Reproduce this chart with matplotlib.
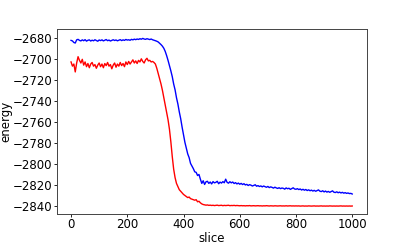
import numpy as np
import matplotlib
matplotlib.use("Agg")
import matplotlib.pyplot as plt

slices = np.arange(0, 1001, 5)

blue_energy = [
    -2682.5, -2683.0, -2684.5, -2685.0, -2682.0, -2681.5,
    -2682.5, -2683.0, -2682.0, -2682.8, -2681.8, -2683.2, -2682.4, -2682.0, -2683.1, -2682.3,
    -2682.9, -2681.9, -2682.6, -2683.3, -2682.1,
    -2682.7, -2682.0, -2683.0, -2682.4, -2681.7, -2682.8, -2682.2, -2683.1, -2682.5, -2681.9,
    -2682.6, -2682.1, -2682.9, -2682.3, -2681.8, -2682.7, -2682.0, -2682.5, -2681.6, -2682.2,
    -2681.9, -2682.4, -2681.5, -2682.0, -2681.3, -2681.8, -2681.2, -2681.6, -2680.9, -2681.4,
    -2680.6, -2681.2, -2681.5, -2680.9, -2681.3, -2681.7, -2681.2, -2681.9,
    -2682.3, -2682.8, -2683.3, -2684.0, -2685.2, -2686.5, -2688.0, -2690.0, -2693.0, -2697.0,
    -2701.5, -2706.5, -2711.5, -2717.0, -2724.0, -2729.5, -2737.0, -2743.0, -2750.5, -2757.0,
    -2765.0, -2772.0, -2779.5, -2785.0, -2790.5, -2794.0, -2799.5, -2802.0, -2804.5, -2807.5,
    -2808.0, -2811.0, -2810.0, -2814.5,
    -2818.5, -2816.0, -2819.5, -2817.0, -2816.5, -2818.5, -2817.2, -2819.0, -2816.8, -2818.0,
    -2817.5, -2816.5, -2818.8, -2817.3, -2818.2, -2816.8, -2817.9, -2814.5, -2817.5, -2818.3,
    -2816.9, -2818.0, -2817.2, -2818.6, -2817.8, -2819.0, -2818.2, -2819.3,
    -2818.5, -2819.6, -2818.8, -2820.0, -2819.4, -2820.5, -2819.7, -2820.2, -2821.0, -2820.4,
    -2819.8, -2821.2, -2820.6, -2821.5, -2820.9, -2821.8, -2821.0, -2821.6, -2822.2, -2821.4,
    -2822.5, -2821.8, -2822.3, -2823.0, -2822.1, -2822.8, -2823.3, -2822.6, -2823.5, -2822.9,
    -2823.2, -2824.0, -2822.8, -2823.6, -2823.1, -2824.2, -2823.4, -2822.7, -2823.8, -2824.1,
    -2823.5, -2824.4, -2823.8, -2824.8, -2824.1, -2825.0, -2824.3, -2825.3, -2824.6, -2825.5,
    -2824.9, -2825.8, -2825.1, -2826.0, -2825.4, -2824.7, -2825.9, -2826.3, -2825.5, -2826.6,
    -2825.8, -2826.8, -2826.1, -2827.0, -2826.3, -2825.6, -2826.9, -2827.2, -2826.5, -2827.4,
    -2826.8, -2827.6, -2827.0, -2827.8, -2827.3, -2828.0, -2827.6, -2828.2, -2828.0, -2828.6,
]

red_energy = [
    -2703.0, -2707.0, -2705.0, -2712.5, -2704.0, -2698.0,
    -2701.5, -2704.0, -2700.5, -2706.0, -2703.0, -2707.5, -2704.5, -2708.5, -2705.0, -2703.5,
    -2707.0, -2705.5, -2709.0, -2706.0, -2704.0,
    -2707.5, -2705.0, -2708.5, -2704.5, -2706.5, -2703.5, -2707.0, -2705.5, -2709.5, -2706.0,
    -2704.0, -2708.0, -2705.0, -2707.0, -2703.5, -2706.5, -2704.5, -2707.5, -2703.0, -2705.5,
    -2702.5, -2705.0, -2703.0, -2701.0, -2704.0, -2702.0, -2704.5, -2701.5, -2703.0, -2700.0,
    -2702.5, -2704.0, -2701.0, -2699.5, -2702.0, -2701.5, -2703.0, -2702.5,
    -2703.5, -2705.0, -2709.0, -2714.0, -2719.0, -2724.0, -2730.0, -2737.0, -2743.5, -2751.0,
    -2758.0, -2767.0, -2779.0, -2793.0, -2805.0, -2813.0, -2818.5, -2821.5, -2824.5, -2826.0,
    -2827.5, -2829.0, -2830.0, -2831.0, -2832.0, -2831.5, -2833.0, -2833.5, -2834.0, -2834.5,
    -2834.0, -2836.0, -2835.5, -2837.0,
    -2838.0, -2838.6, -2838.9, -2839.2, -2839.0, -2839.4, -2839.2, -2839.5, -2839.3, -2839.6,
    -2839.4, -2839.2, -2839.6, -2839.5, -2839.3, -2839.7, -2839.4, -2839.6, -2839.5, -2839.3,
    -2839.7, -2839.5, -2839.6, -2839.4, -2839.7, -2839.5, -2839.6, -2839.8,
    -2839.6, -2839.8, -2839.7, -2839.9, -2839.7, -2839.8, -2839.6, -2839.9, -2839.8, -2839.7,
    -2839.9, -2839.8, -2839.7, -2839.9, -2839.8, -2840.0, -2839.8, -2839.9, -2839.7, -2839.9,
    -2840.0, -2839.8, -2839.9, -2840.0, -2839.8, -2839.9, -2840.0, -2839.9, -2839.8, -2840.0,
    -2839.9, -2840.0, -2839.8, -2840.0, -2839.9, -2839.8, -2840.0, -2839.9, -2840.0, -2839.9,
    -2840.0, -2839.9, -2840.1, -2840.0, -2839.9, -2840.1, -2840.0, -2840.1, -2839.9, -2840.0,
    -2840.1, -2840.0, -2839.9, -2840.1, -2840.0, -2840.1, -2840.0, -2839.9, -2840.1, -2840.0,
    -2840.1, -2840.0, -2840.1, -2839.9, -2840.0, -2840.1, -2840.0, -2840.1, -2840.0, -2840.1,
    -2840.0, -2839.9, -2840.1, -2840.0, -2840.1, -2840.0, -2840.1, -2840.0, -2840.1, -2840.0,
]

fig = plt.figure(figsize=(4.07, 2.44), dpi=100)
ax = fig.add_axes([0.140, 0.123, 0.762, 0.758])
ax.plot(slices, blue_energy, color="blue", linewidth=1.0)
ax.plot(slices, red_energy, color="red", linewidth=1.0)
ax.set_xlim(-50, 1053)
ax.set_ylim(-2847.6, -2671.7)
ax.set_xticks([0, 200, 400, 600, 800, 1000])
ax.set_yticks([-2680, -2700, -2720, -2740, -2760, -2780, -2800, -2820, -2840])
ax.tick_params(labelsize=8.5, width=0.6, length=2, pad=1.2)
for s in ax.spines.values():
    s.set_linewidth(0.7)
    s.set_color("#444444")
ax.set_xlabel("slice", fontsize=8.5, labelpad=0.5)
ax.set_ylabel("energy", fontsize=8.5, labelpad=0.5)
fig.savefig("out.png", dpi=100)
